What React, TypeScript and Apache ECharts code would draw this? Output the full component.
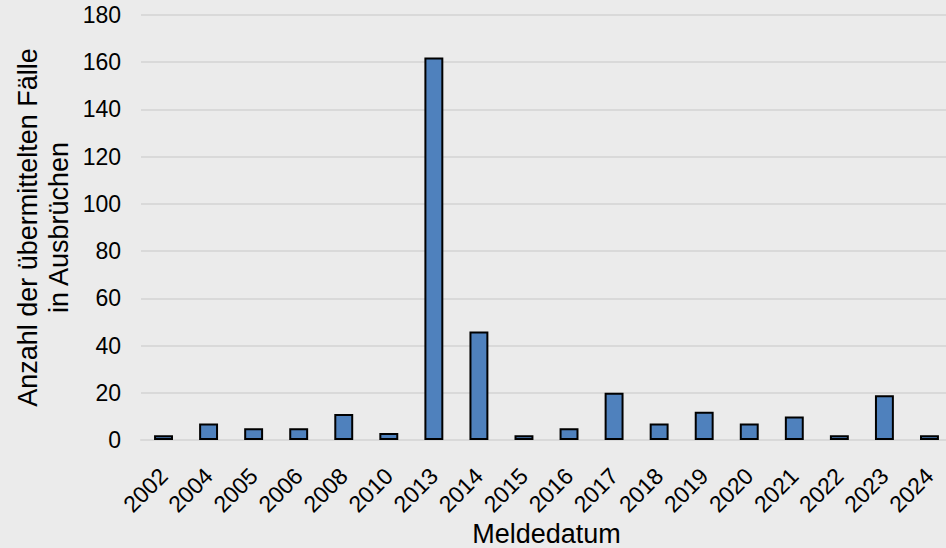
import React, { useEffect, useRef } from "react";
import * as echarts from "echarts";

// Reporting years and number of cases reported in outbreaks
const years = [
  "2002", "2004", "2005", "2006", "2008", "2010", "2013", "2014", "2015",
  "2016", "2017", "2018", "2019", "2020", "2021", "2022", "2023", "2024",
];
const cases = [2, 7, 5, 5, 11, 3, 162, 46, 2, 5, 20, 7, 12, 7, 10, 2, 19, 2];

const yAxisTitle = "Anzahl der übermittelten Fälle\nin Ausbrüchen";
const xAxisTitle = "Meldedatum";

const FONT = "'Liberation Sans', Arial, sans-serif";

export default function App() {
  const ref = useRef<HTMLDivElement>(null);

  useEffect(() => {
    if (!ref.current) return;
    const chart = echarts.init(ref.current, undefined, { renderer: "svg" });
    chart.setOption({
      animation: false,
      backgroundColor: "#ebebeb",
      textStyle: { fontFamily: FONT },
      grid: {
        left: 141,
        right: -6,
        top: 15,
        bottom: 108,
        containLabel: false,
        outerBoundsMode: "none",
      },
      xAxis: {
        type: "category",
        data: years,
        axisLine: { show: true, lineStyle: { color: "#d9d9d9", width: 2 } },
        axisTick: { show: false },
        axisLabel: {
          rotate: 45,
          margin: 32,
          color: "#000",
          fontSize: 23,
          fontFamily: FONT,
          interval: 0,
        },
        name: xAxisTitle,
        nameLocation: "middle",
        nameGap: 83,
        nameMoveOverlap: false,
        nameTextStyle: {
          color: "#000",
          fontSize: 27,
          lineHeight: 22,
          fontFamily: FONT,
        },
      },
      yAxis: {
        type: "value",
        min: 0,
        max: 180,
        interval: 20,
        axisLine: { show: false },
        axisTick: { show: false },
        splitLine: { lineStyle: { color: "#d9d9d9", width: 2 } },
        axisLabel: { color: "#000", fontSize: 23, fontFamily: FONT, margin: 20 },
        name: yAxisTitle,
        nameLocation: "middle",
        nameGap: 67,
        nameRotate: 90,
        nameMoveOverlap: false,
        nameTextStyle: {
          color: "#000",
          fontSize: 27,
          fontFamily: FONT,
          lineHeight: 31,
          align: "center",
        },
      },
      series: [
        {
          type: "bar",
          data: cases,
          barWidth: "42%",
          itemStyle: { color: "#4f81bd", borderColor: "#000", borderWidth: 2 },
        },
      ],
    });
    return () => chart.dispose();
  }, []);

  return (
    <div
      ref={ref}
      style={{ position: "fixed", left: 0, top: 0, width: 946, height: 548 }}
    />
  );
}
